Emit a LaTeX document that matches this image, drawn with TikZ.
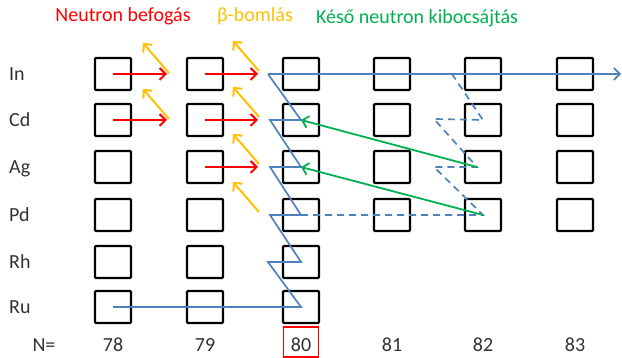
\documentclass[tikz,border=0pt]{standalone}
\usepackage{fontspec}
\setmainfont{Carlito}
\usetikzlibrary{arrows.meta}
\definecolor{nred}{RGB}{255,0,0}
\definecolor{borange}{RGB}{255,192,0}
\definecolor{dgreen}{RGB}{0,176,80}
\definecolor{pblue}{RGB}{79,129,189}
\definecolor{lbl}{RGB}{50,50,50}
\begin{document}
\begin{tikzpicture}[x=1pt,y=-1pt,
  nuc/.style={draw=black,line width=2.3pt,minimum width=36pt,minimum height=32pt,inner sep=0pt,rounded corners=1pt},
  lab/.style={font=\fontsize{20}{24}\selectfont,text=lbl,inner sep=0pt},
  tip/.style={-{Straight Barb[length=6pt,width=12pt]}},
  capt/.style={tip,draw=nred,line width=2pt},
  beta/.style={tip,draw=borange,line width=2pt},
  dn/.style={tip,draw=dgreen,line width=1.8pt},
  rpath/.style={draw=pblue,line width=1.7pt},
  dpath/.style={rpath,dash pattern=on 7pt off 5pt}]
\useasboundingbox (0,0) rectangle (622,358);
% boxes
\foreach \r/\y in {In/74,Cd/120,Ag/167,Pd/215}{
  \foreach \n/\x in {78/113,79/205,80/301,81/392,82/483,83/575}{
    \node[nuc] (\r\n) at (\x,\y) {};
  }
}
\foreach \r/\y in {Rh/262,Ru/307}{
  \foreach \n/\x in {78/113,79/205,80/301}{
    \node[nuc] (\r\n) at (\x,\y) {};
  }
}
% row labels
\foreach \r/\y in {In/74,Cd/120,Ag/167,Pd/215,Rh/262,Ru/307}{
  \node[lab,anchor=base west] (l\r) at (9,\y+6.5) {\r};
}
% N labels
\node[lab,anchor=base] (lN) at (44,352) {N=};
\foreach \n/\x in {78/113,79/205,80/301,81/392,82/483,83/575}{
  \node[lab,anchor=base] (N\n) at (\x,352) {\n};
}
\node[draw=nred,line width=1.6pt,minimum width=35pt,minimum height=30pt,inner sep=0pt] (box80) at (301,342) {};
% titles
\node[lab,text=nred,anchor=base] (t1) at (123,22) {Neutron befogás};
\node[lab,text=borange,anchor=base] (t2) at (255,22) {β-bomlás};
\node[lab,text=dgreen,anchor=base] (t3) at (417,24) {Késő neutron kibocsájtás};
% neutron capture and beta decay
\foreach \r/\y in {In/74,Cd/120}{
  \coordinate (c\r78) at (167,\y);
  \coordinate (c\r79) at (258,\y);
  \draw[capt] (\r78.center) -- (c\r78);
  \draw[capt] (\r79.center) -- (c\r79);
}
\coordinate (cAg79) at (258,167);
\draw[capt] (Ag79.center) -- (cAg79);
\foreach \r/\y in {In/74,Cd/120}{
  \coordinate (bs\r78) at (169,\y-1);
  \coordinate (be\r78) at (143,\y-31);
  \draw[beta] (bs\r78) -- (be\r78);
}
\foreach \r/\y in {In/74,Cd/120,Ag/167,Pd/215}{
  \coordinate (bs\r79) at (259,\y-3);
  \coordinate (be\r79) at (233,\y-33);
  \draw[beta] (bs\r79) -- (be\r79);
}
% r-process path (solid)
\coordinate (kRh) at (268,262);
\coordinate (kPd) at (270,215);
\coordinate (kAg) at (270,167);
\coordinate (kCd) at (270,120);
\coordinate (kIn) at (268,74);
\coordinate (kEnd) at (621,74);
\draw[rpath] (Ru78.center) -- (Ru80.center) -- (kRh) -- (Rh80.center) -- (kPd) -- (Pd80.center)
  -- (kAg) -- (Ag80.center) -- (kCd) -- (Cd80.center) -- (kIn);
\draw[rpath,tip] (kIn) -- (kEnd);
% dashed path
\coordinate (dAgL) at (434,167);
\coordinate (dAgR) at (477,167);
\coordinate (dCdL) at (434,119);
\coordinate (dIn) at (452,74);
\draw[dpath] (Pd80.center) -- (Pd82.center) -- (dAgL) -- (dAgR) -- (dCdL) -- (Cd82.center) -- (dIn);
% delayed neutron emission
\draw[dn] (dAgR) -- (Cd80.center);
\draw[dn] (Pd82.center) -- (Ag80.center);
\end{tikzpicture}
\end{document}
